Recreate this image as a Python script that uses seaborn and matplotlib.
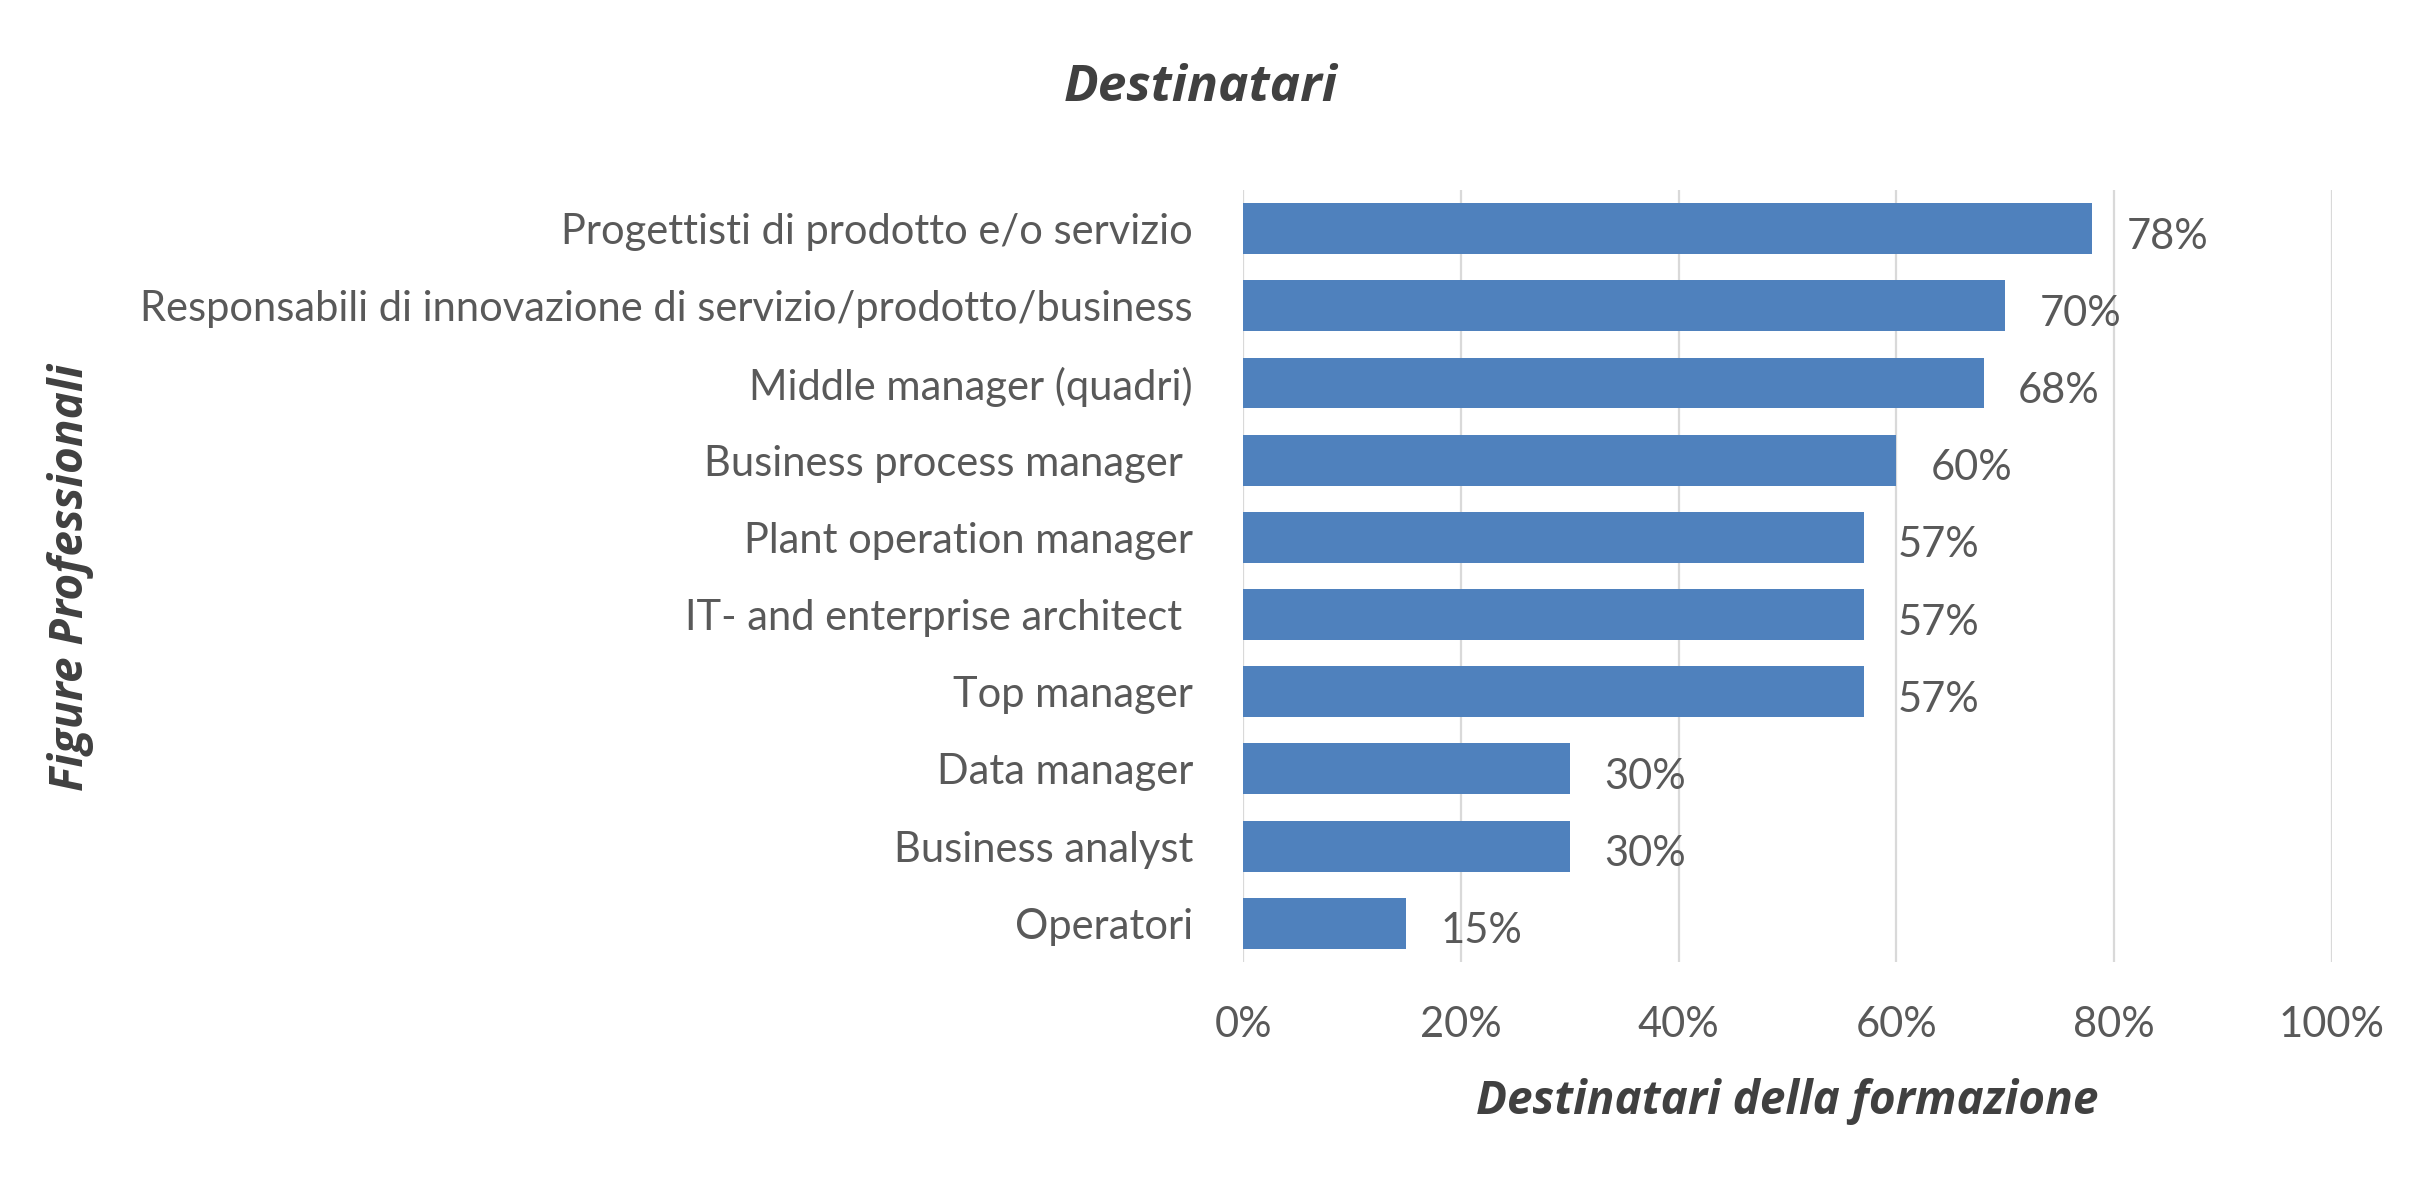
import matplotlib
matplotlib.use("Agg")
import matplotlib.pyplot as plt
import seaborn as sns
import pandas as pd
from matplotlib.ticker import FuncFormatter

categories = [
    "Progettisti di prodotto e/o servizio",
    "Responsabili di innovazione di servizio/prodotto/business",
    "Middle manager (quadri)",
    "Business process manager ",
    "Plant operation manager",
    "IT- and enterprise architect ",
    "Top manager",
    "Data manager",
    "Business analyst",
    "Operatori",
]
values = [0.78, 0.70, 0.68, 0.60, 0.57, 0.57, 0.57, 0.30, 0.30, 0.15]
value_labels = ["78%", "70%", "68%", "60%", "57%", "57%", "57%", "30%", "30%", "15%"]
x_ticks = [0, 0.2, 0.4, 0.6, 0.8, 1.0]

title = "Destinatari"
x_title = "Destinatari della formazione"
y_title = "Figure Professionali"

sns.set_theme(style="white")
plt.rcParams["font.family"] = ["Lato", "DejaVu Sans"]

df = pd.DataFrame({"cat": categories, "val": values})

fig = plt.figure(figsize=(24.35, 11.78), dpi=100)
ax = fig.add_axes([0.5105, 0.1834, 0.9577 - 0.5105, 0.8387 - 0.1834])

bar_color = "#4F81BD"
text_color = "#595959"
title_color = "#404040"
title_font = ["Open Sans", "DejaVu Sans"]

sns.barplot(data=df, x="val", y="cat", orient="h", color=bar_color,
            saturation=1, width=0.66, ax=ax, edgecolor="none")

ax.set_xlim(0, 1.0)
ax.set_ylim(len(categories) - 0.5, -0.5)
ax.set_xticks(x_ticks)
ax.xaxis.set_major_formatter(FuncFormatter(lambda v, p: f"{int(round(v * 100))}%"))
ax.grid(axis="x", color="#D9D9D9", linewidth=1.6)
ax.set_axisbelow(True)
for s in ax.spines.values():
    s.set_visible(False)

ax.tick_params(axis="x", length=0, pad=32, labelsize=30, labelcolor=text_color)
ax.tick_params(axis="y", length=0, pad=36, labelsize=30, labelcolor=text_color)

for i, (v, lab) in enumerate(zip(values, value_labels)):
    ax.annotate(lab, xy=(v, i), xytext=(34, -8), textcoords="offset pixels",
                ha="left", va="center", fontsize=30, color=text_color)

ax.set_xlabel(x_title, fontsize=33, fontweight="bold", fontstyle="italic",
              color=title_color, labelpad=24, family=title_font)
ax.set_ylabel("")
fig.text(0.029, 0.51, y_title, rotation=90, ha="center", va="center",
         fontsize=33, fontweight="bold", fontstyle="italic", color=title_color,
         family=title_font)
fig.text(0.493, 1 - 88 / 1178, title, ha="center", va="center",
         fontsize=37, fontweight="bold", fontstyle="italic", color=title_color,
         family=title_font)

fig.savefig("out.png", dpi=100, facecolor="white")
